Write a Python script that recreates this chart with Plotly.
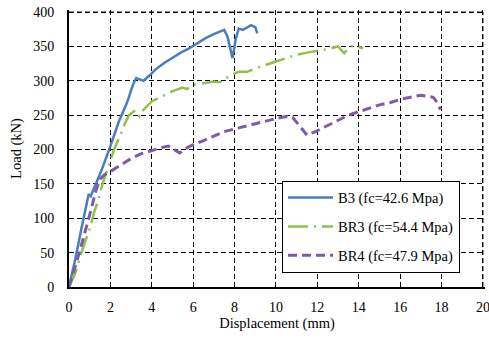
import plotly.graph_objects as go

b3_x = [0, 0.3, 0.6, 0.9, 0.95, 1.05, 1.3, 1.6, 2.0, 2.4, 2.8, 3.1, 3.25, 3.4, 3.6, 3.9, 4.2, 4.6, 5.0,
        5.4, 5.8, 6.2, 6.6, 7.0, 7.3, 7.5, 7.65, 7.9, 8.05, 8.2, 8.4, 8.6, 8.8, 9.0, 9.1]
b3_y = [0, 40, 85, 125, 135, 132, 150, 172, 205, 240, 268, 295, 304, 302, 300, 308, 317, 326, 334,
        341, 347, 355, 362, 368, 372, 374, 365, 333, 360, 376, 374, 378, 381, 378, 369]

br3_x = [0, 0.3, 0.6, 1.0, 1.25, 1.4, 1.6, 1.8, 2.0, 2.2, 2.5, 2.7, 2.9, 3.2, 3.4, 3.6, 4.0, 4.5,
         5.0, 5.5, 5.7, 6.0, 6.5, 7.0, 7.3, 7.8, 8.2, 8.6, 9.0, 9.5, 10.0, 10.5, 11.0, 11.5, 12.0,
         12.5, 13.0, 13.3, 13.5, 13.8, 14.2]
br3_y = [0, 20, 50, 85, 112, 125, 148, 165, 185, 202, 222, 238, 250, 257, 248, 258, 270, 278,
         285, 290, 288, 294, 297, 299, 298, 308, 313, 313, 318, 323, 328, 333, 338, 341, 343,
         346, 350, 340, 348, 352, 347]

br4_x = [0, 0.5, 1.0, 1.3, 1.5, 1.7, 2.0, 2.5, 3.0, 3.5, 4.0, 4.5, 4.8, 5.1, 5.35, 5.6, 6.0, 6.5,
         7.0, 7.5, 8.0, 8.5, 9.0, 9.5, 10.0, 10.5, 10.8, 11.1, 11.5, 11.9, 12.5, 13.0, 13.5, 14.0,
         14.5, 15.0, 15.5, 16.0, 16.5, 17.0, 17.4, 17.6, 17.8, 17.95]
br4_y = [0, 50, 105, 140, 157, 163, 168, 178, 187, 194, 199, 203, 205, 200, 195, 201, 207, 213,
         220, 226, 230, 234, 237, 241, 245, 248, 247, 236, 221, 226, 235, 242, 250, 255,
         260, 265, 268, 273, 276, 279, 277, 276, 268, 258]

names = ["B3 (fc=42.6 Mpa)", "BR3 (fc=54.4 Mpa)", "BR4 (fc=47.9 Mpa)"]
x_ticks = [0, 2, 4, 6, 8, 10, 12, 14, 16, 18, 20]
y_ticks = [0, 50, 100, 150, 200, 250, 300, 350, 400]

FONT = "Liberation Serif, Times New Roman, serif"

fig = go.Figure()
fig.add_trace(go.Scatter(x=b3_x, y=b3_y, mode="lines", name=names[0], legendgroup="a",
                         line=dict(color="#4a7ebb", width=2.5)))
fig.add_trace(go.Scatter(x=br3_x, y=br3_y, mode="lines", name=names[1], legendgroup="b",
                         line=dict(color="#8fc247", width=2.5, dash="20px,6px,2px,6px")))
fig.add_trace(go.Scatter(x=br4_x, y=br4_y, mode="lines", name=names[2], legendgroup="c",
                         line=dict(color="#7f5aa8", width=3, dash="9px,5px")))

axis_common = dict(showgrid=True, gridcolor="black", gridwidth=1, griddash="5px,3px",
                   zeroline=False, showline=True, linecolor="black", linewidth=2,
                   ticks="", automargin=False, ticklabeloverflow="allow",
                   tickfont=dict(family=FONT, size=14, color="black"))

# outer grid lines at the top (Load = 400) and right (Displacement = 20) edges
fig.add_shape(type="line", xref="x", yref="y", x0=0, x1=x_ticks[-1], y0=y_ticks[-1], y1=y_ticks[-1],
              line=dict(color="black", width=1, dash="5px,3px"), layer="below")
fig.add_shape(type="line", xref="x", yref="y", x0=x_ticks[-1], x1=x_ticks[-1], y0=0, y1=y_ticks[-1],
              line=dict(color="black", width=1, dash="5px,3px"), layer="below")

fig.update_layout(
    width=489, height=339,
    margin=dict(l=69, r=4, t=10, b=52),
    paper_bgcolor="white", plot_bgcolor="white",
    font=dict(family=FONT, color="black"),
    xaxis=dict(range=[0, 20.1], tickvals=x_ticks, ticklabelstandoff=6,
               title=dict(text="Displacement (mm)", font=dict(family=FONT, size=14.5), standoff=4),
               **axis_common),
    yaxis=dict(range=[0, 403], tickvals=y_ticks, ticklabelstandoff=10,
               title=dict(text="Load (kN)", font=dict(family=FONT, size=14.5), standoff=8),
               **axis_common),
    showlegend=True,
    legend=dict(x=0.512, y=0.384, xanchor="left", yanchor="top",
                bgcolor="white", bordercolor="black", borderwidth=1,
                font=dict(family=FONT, size=14.5, color="black"),
                itemwidth=45, tracegroupgap=7, traceorder="grouped"),
)

# remove the default 8px page margin so the figure fills the window
fig.write_html("out.html", config={"displayModeBar": False},
               post_script="document.body.style.margin='0';document.body.style.overflow='hidden';")
